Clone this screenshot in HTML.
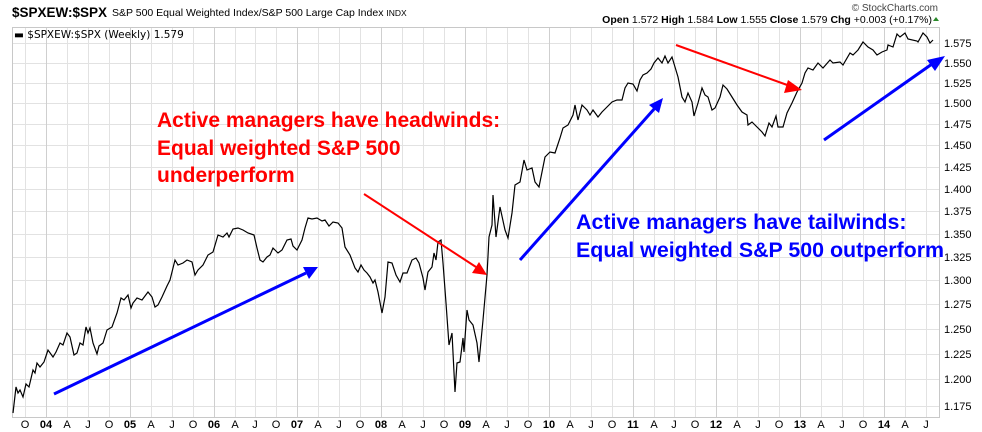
<!DOCTYPE html>
<html><head><meta charset="utf-8"><style>
html,body{margin:0;padding:0;background:#fff;}
svg{display:block;font-family:"Liberation Sans",Arial,sans-serif;}
</style></head><body>
<svg width="982" height="432" viewBox="0 0 982 432" xmlns="http://www.w3.org/2000/svg">
<rect width="982" height="432" fill="#fff"/>
<text x="12" y="17" font-size="13.5" font-weight="bold" fill="#000">$SPXEW:$SPX</text>
<text x="112" y="16" font-size="10.5" fill="#000">S&amp;P 500 Equal Weighted Index/S&amp;P 500 Large Cap Index <tspan font-size="8.5">INDX</tspan></text>
<text x="938" y="11" font-size="10" fill="#444" text-anchor="end">© StockCharts.com</text>
<text x="932" y="23" font-size="10.5" fill="#000" text-anchor="end"><tspan font-weight="bold">Open</tspan> 1.572  <tspan font-weight="bold">High</tspan> 1.584  <tspan font-weight="bold">Low</tspan> 1.555  <tspan font-weight="bold">Close</tspan> 1.579  <tspan font-weight="bold">Chg</tspan> +0.003 (+0.17%)</text>
<path d="M933,21 l3,-4 l3,4z" fill="#2a8a2a"/>
<path stroke="#e2e2e2" stroke-width="1" fill="none" d="M13,43.5H939M13,63.5H939M13,83.5H939M13,103.5H939M13,124.5H939M13,145.5H939M13,167.5H939M13,189.5H939M13,211.5H939M13,234.5H939M13,257.5H939M13,280.5H939M13,304.5H939M13,329.5H939M13,354.5H939M13,379.5H939M13,406.5H939
M25.5,28V417M67.5,28V417M88.5,28V417M109.5,28V417M151.5,28V417M172.5,28V417M193.5,28V417M235.5,28V417M255.5,28V417M276.5,28V417M318.5,28V417M339.5,28V417M360.5,28V417M402.5,28V417M423.5,28V417M444.5,28V417M486.5,28V417M507.5,28V417M528.5,28V417M570.5,28V417M591.5,28V417M612.5,28V417M654.5,28V417M674.5,28V417M695.5,28V417M737.5,28V417M758.5,28V417M779.5,28V417M821.5,28V417M842.5,28V417M863.5,28V417M905.5,28V417M926.5,28V417"/>
<path stroke="#cfcfcf" stroke-width="1" fill="none" d="M46.5,28V417M130.5,28V417M214.5,28V417M297.5,28V417M381.5,28V417M465.5,28V417M549.5,28V417M633.5,28V417M716.5,28V417M800.5,28V417M884.5,28V417"/>
<rect x="12.5" y="27.5" width="927" height="390" fill="none" stroke="#c8c8c8"/>
<g font-size="11" fill="#000">
<text x="944" y="47">1.575</text><text x="944" y="67">1.550</text><text x="944" y="87">1.525</text><text x="944" y="107">1.500</text><text x="944" y="128">1.475</text><text x="944" y="149">1.450</text><text x="944" y="171">1.425</text><text x="944" y="193">1.400</text><text x="944" y="215">1.375</text><text x="944" y="238">1.350</text><text x="944" y="261">1.325</text><text x="944" y="284">1.300</text><text x="944" y="308">1.275</text><text x="944" y="333">1.250</text><text x="944" y="358">1.225</text><text x="944" y="383">1.200</text><text x="944" y="410">1.175</text>
</g>
<g font-size="11" fill="#000" text-anchor="middle">
<text x="25" y="428">O</text><text x="67" y="428">A</text><text x="88" y="428">J</text><text x="109" y="428">O</text><text x="151" y="428">A</text><text x="172" y="428">J</text><text x="193" y="428">O</text><text x="235" y="428">A</text><text x="255" y="428">J</text><text x="276" y="428">O</text><text x="318" y="428">A</text><text x="339" y="428">J</text><text x="360" y="428">O</text><text x="402" y="428">A</text><text x="423" y="428">J</text><text x="444" y="428">O</text><text x="486" y="428">A</text><text x="507" y="428">J</text><text x="528" y="428">O</text><text x="570" y="428">A</text><text x="591" y="428">J</text><text x="612" y="428">O</text><text x="654" y="428">A</text><text x="674" y="428">J</text><text x="695" y="428">O</text><text x="737" y="428">A</text><text x="758" y="428">J</text><text x="779" y="428">O</text><text x="821" y="428">A</text><text x="842" y="428">J</text><text x="863" y="428">O</text><text x="905" y="428">A</text><text x="926" y="428">J</text>
<g font-weight="bold"><text x="46" y="428">04</text><text x="130" y="428">05</text><text x="214" y="428">06</text><text x="297" y="428">07</text><text x="381" y="428">08</text><text x="465" y="428">09</text><text x="549" y="428">10</text><text x="633" y="428">11</text><text x="716" y="428">12</text><text x="800" y="428">13</text><text x="884" y="428">14</text></g>
</g>
<text x="14" y="38" font-size="10.5" fill="#000" font-family="'DejaVu Sans',sans-serif">▬ $SPXEW:$SPX (Weekly) 1.579</text>
<polyline fill="none" stroke="#000" stroke-width="1.2" points="13,413 16,387 18,393 20,390 23,397 26,384 29,387 33,370 35,373 37,363 40,367 44,362 48,350 53,357 56,352 60,343 63,345 67,333 70,337 74,355 77,353 80,343 83,345 86,327 88,333 90,328 93,343 97,354 99,346 103,343 107,330 112,327 117,313 121,298 124,300 128,295 131,308 133,303 137,298 142,300 148,292 152,297 155,307 158,305 162,297 167,286 170,280 175,260 178,265 183,263 187,260 192,262 195,275 198,270 203,265 208,255 213,252 218,235 223,237 227,233 229,237 233,229 238,228 243,230 248,233 254,235 257,248 260,260 263,262 267,257 270,255 273,248 278,253 282,250 287,240 291,239 293,246 297,250 302,240 305,228 308,218 312,219 317,218 322,221 325,220 329,226 333,222 338,223 342,228 345,247 350,255 355,268 358,272 361,265 364,270 367,273 370,277 373,283 375,280 378,292 382,313 385,297 388,262 392,263 396,275 400,282 403,273 407,273 412,260 416,258 419,263 423,278 425,290 428,272 432,267 434,253 436,260 438,242 441,240 443,263 446,303 449,345 452,333 455,392 457,363 460,362 463,338 464,352 467,310 469,320 473,325 477,343 479,362 483,320 487,275 489,237 492,225 493,195 496,237 500,207 505,230 508,238 512,213 515,185 520,182 524,160 527,170 532,168 535,182 539,187 545,157 550,152 555,153 560,138 563,128 568,125 573,115 575,105 578,120 582,105 587,110 590,115 593,110 598,117 602,112 607,107 612,102 617,100 622,100 625,88 628,83 633,84 637,91 640,80 643,75 647,73 651,69 654,63 658,58 662,63 665,56 668,63 672,57 675,67 678,77 682,97 685,102 688,93 692,102 694,116 698,103 702,88 705,95 708,97 712,110 715,108 720,97 723,85 727,89 732,97 737,105 742,112 747,115 748,125 752,122 757,127 762,132 765,136 769,123 772,127 776,116 778,127 783,127 787,113 792,103 797,92 802,83 805,73 808,68 813,70 818,63 823,68 830,60 833,63 840,62 843,65 850,53 853,55 858,50 863,42 868,47 873,50 877,55 882,52 887,50 888,45 893,47 897,34 900,37 905,33 908,39 917,41 918,42 923,33 927,37 930,43 933,40"/>
<g stroke-width="3" stroke-linecap="butt">
<line x1="54" y1="394" x2="306" y2="273" stroke="#0000ff"/>
<path d="M318,267 L303,267 L309,279 Z" fill="#0000ff"/>
<line x1="364" y1="194" x2="476" y2="267" stroke="#ff0000" stroke-width="2"/>
<path d="M487,275 L472,273 L479,262 Z" fill="#ff0000"/>
<line x1="520" y1="260" x2="655" y2="108" stroke="#0000ff"/>
<path d="M663,98 L649,105 L659,113 Z" fill="#0000ff"/>
<line x1="676" y1="45" x2="790" y2="86" stroke="#ff0000" stroke-width="2"/>
<path d="M802,90 L788,80 L784,93 Z" fill="#ff0000"/>
<line x1="824" y1="140" x2="932" y2="64" stroke="#0000ff"/>
<path d="M945,56 L927,60 L935,71 Z" fill="#0000ff"/>
</g>
<g font-size="21" font-weight="bold" fill="#ff0000">
<text x="157" y="127">Active managers have headwinds:</text>
<text x="157" y="155">Equal weighted S&amp;P 500</text>
<text x="157" y="182">underperform</text>
</g>
<g font-size="21.4" font-weight="bold" fill="#0000ff">
<text x="576" y="229">Active managers have tailwinds:</text>
<text x="576" y="257">Equal weighted S&amp;P 500 outperform</text>
</g>
</svg>
</body></html>
